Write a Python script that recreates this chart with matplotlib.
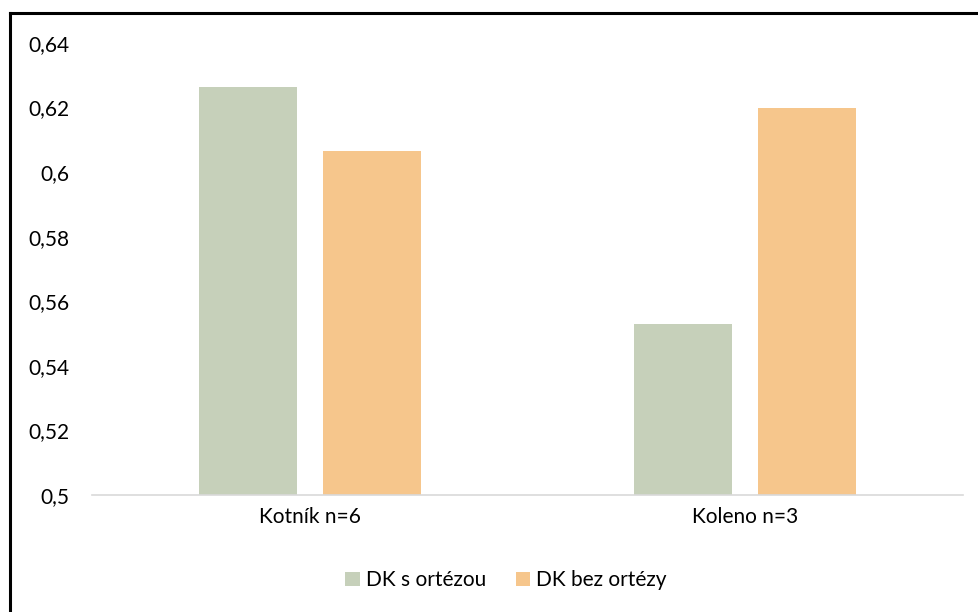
import numpy as np
import matplotlib.pyplot as plt
from matplotlib.lines import Line2D

plt.rcParams['font.family'] = ['Lato', 'DejaVu Sans']

# data
kategorie = ['Kotník n=6', 'Koleno n=3']
s_ortezou = [0.6265, 0.5530]
bez_ortezy = [0.6066, 0.6199]
serie = ['DK s ortézou', 'DK bez ortézy']
barvy = ['#C6D0BA', '#F6C68C']

fig = plt.figure(figsize=(9.79, 6.12), dpi=100)
ax = fig.add_axes([0.094, 0.1912, 0.8897, 0.7385])

x = np.arange(len(kategorie))
sirka = 0.225
posun = 0.1425
ax.bar(x - posun, s_ortezou, sirka, color=barvy[0], label=serie[0])
ax.bar(x + posun, bez_ortezy, sirka, color=barvy[1], label=serie[1])

ax.set_xlim(-0.5, 1.5)
ax.set_ylim(0.5, 0.64)
yt = np.arange(0.5, 0.6401, 0.02)
ax.set_yticks(yt)
ax.set_yticklabels([('%.2f' % v).rstrip('0').replace('.', ',') for v in yt])
ax.set_xticks(x)
ax.set_xticklabels(kategorie)
ax.tick_params(axis='y', length=0, pad=16, labelsize=15, colors='black')
ax.tick_params(axis='x', length=0, pad=9, labelsize=15, colors='black')

for s in ['top', 'right', 'left']:
    ax.spines[s].set_visible(False)
ax.spines['bottom'].set_color('#D9D9D9')
ax.spines['bottom'].set_linewidth(1.2)

fig.legend(loc='center', bbox_to_anchor=(0.517, 0.052), ncol=2, frameon=False,
           fontsize=15, handlelength=0.7, handleheight=0.7, handletextpad=0.3,
           columnspacing=1.4)

# rámeček grafu
fig.add_artist(Line2D([10 / 979, 10 / 979], [0, 1 - 13 / 612], transform=fig.transFigure,
                      color='black', linewidth=2.2))
fig.add_artist(Line2D([10 / 979, 1], [1 - 13 / 612, 1 - 13 / 612], transform=fig.transFigure,
                      color='black', linewidth=2.2))

fig.savefig('out.png', dpi=100)
